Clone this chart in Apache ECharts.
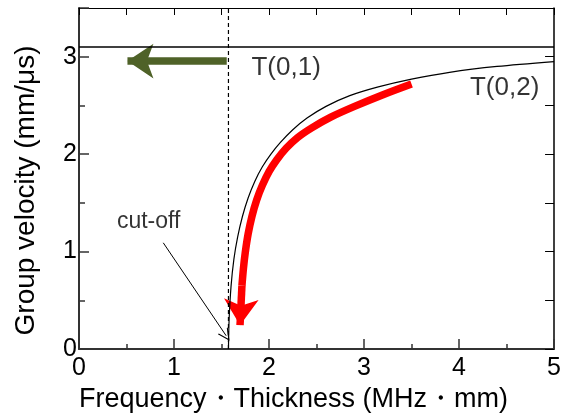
<!DOCTYPE html>
<html><head><meta charset="utf-8">
<script src="https://cdn.jsdelivr.net/npm/echarts@6/dist/echarts.min.js"></script>
<style>html,body{margin:0;padding:0;background:#fff}#c{width:564px;height:418px}</style>
</head><body><div id="c"></div>
<script>
// T(0,2) group velocity curve
const curveX = [1.573, 1.58, 1.60, 1.63, 1.67, 1.72, 1.78, 1.85, 1.93, 2.02, 2.12, 2.25, 2.40, 2.60, 2.85, 3.15, 3.50, 3.90, 4.40, 5.00];
const curveY = [0.00, 0.30, 0.64, 0.92, 1.15, 1.36, 1.55, 1.72, 1.87, 2.00, 2.12, 2.25, 2.37, 2.49, 2.60, 2.69, 2.77, 2.84, 2.90, 2.95];
// red thick arrow (shaft) from top right down toward cut-off
const redX = [3.50, 3.20, 2.90, 2.65, 2.45, 2.30, 2.18, 2.08, 2.00, 1.93, 1.87, 1.82, 1.78, 1.75, 1.73, 1.715];
const redY = [2.72, 2.61, 2.49, 2.38, 2.27, 2.17, 2.06, 1.94, 1.82, 1.68, 1.53, 1.36, 1.18, 0.99, 0.82, 0.65];
const redHeadX = [1.715, 1.695];
const redHeadY = [0.65, 0.245];
// green arrow along T(0,1)
const greenX = [1.555, 0.51];
const greenY = [2.955, 2.955];
// cut-off pointer
const cutArrowX = [0.887, 1.549];
const cutArrowY = [1.09, 0.136];
const cutoffFT = 1.573;
const t01Velocity = 3.1;
const annotations = [
  {text: 'T(0,1)', x: 1.81, y: 2.89, size: 26},
  {text: 'T(0,2)', x: 4.11, y: 2.685, size: 26},
  {text: 'cut-off', x: 0.394, y: 1.31, size: 23}
];
const xMin = 0, xMax = 5, yMin = 0, yMax = 3.5;

const FONT = 'Liberation Sans, Arial, sans-serif';
const chart = echarts.init(document.getElementById('c'), null, {renderer: 'canvas'});
const pair = (xs, ys) => xs.map((v, i) => [v, ys[i]]);

const baseAxis = {type: 'value', splitLine: {show: false}};
const option = {
  animation: false,
  backgroundColor: '#fff',
  grid: {left: 79, right: 6, top: 8, bottom: 68, show: false},
  xAxis: [
    Object.assign({}, baseAxis, {min: xMin, max: xMax, interval: 1, position: 'bottom',
      axisLine: {show: true, onZero: false, lineStyle: {color: '#333', width: 2}},
      axisTick: {show: true, inside: true, length: 10, lineStyle: {color: '#333', width: 1.5}},
      minorTick: {show: true, splitNumber: 2, length: 5, lineStyle: {color: '#333', width: 1.5}},
      axisLabel: {fontSize: 25, color: '#000', fontFamily: FONT, margin: 7},
      name: 'Frequency・Thickness (MHz・mm)', nameLocation: 'middle', nameGap: 37,
      nameTextStyle: {fontSize: 27, color: '#000', fontFamily: FONT, padding: [0, 46, 0, 0]}
    }),
    Object.assign({}, baseAxis, {min: xMin, max: xMax, interval: 0.5, position: 'top',
      axisLine: {show: true, onZero: false, lineStyle: {color: '#000', width: 1.2}},
      axisTick: {show: true, inside: true, length: 7, lineStyle: {color: '#000', width: 1}},
      axisLabel: {show: false}
    })
  ],
  yAxis: [
    Object.assign({}, baseAxis, {min: yMin, max: yMax, interval: 1, position: 'left',
      axisLine: {show: true, onZero: false, lineStyle: {color: '#333', width: 2}},
      axisTick: {show: true, inside: true, length: 10, lineStyle: {color: '#333', width: 1.5}},
      minorTick: {show: true, splitNumber: 2, length: 6, lineStyle: {color: '#333', width: 1.5}},
      axisLabel: {fontSize: 25, color: '#000', fontFamily: FONT, margin: 2, showMaxLabel: false},
      name: 'Group velocity (mm/μs)', nameLocation: 'middle', nameGap: 39, nameRotate: 90,
      nameTextStyle: {fontSize: 28, color: '#000', fontFamily: FONT, padding: [0, 24, 0, 0]}
    }),
    Object.assign({}, baseAxis, {min: yMin, max: yMax, interval: 0.5, position: 'right',
      axisLine: {show: true, onZero: false, lineStyle: {color: '#000', width: 1.5}},
      axisTick: {show: true, inside: true, length: 9, lineStyle: {color: '#000', width: 1}},
      axisLabel: {show: false}
    })
  ],
  series: [
    {type: 'line', data: [[cutoffFT, yMin], [cutoffFT, yMax]], symbol: 'none',
      lineStyle: {color: '#000', width: 1.2, type: [4, 3]}, silent: true},
    {type: 'line', data: [[xMin, t01Velocity], [xMax, t01Velocity]], symbol: 'none',
      lineStyle: {color: '#000', width: 1.5}},
    {type: 'line', data: pair(curveX, curveY), symbol: 'none', smooth: 0.3,
      lineStyle: {color: '#000', width: 1.2}},
    {type: 'line', data: pair(redX, redY), symbol: 'none', smooth: 0.3,
      lineStyle: {color: '#ff0000', width: 7.5, cap: 'butt', join: 'round'}},
    {type: 'lines', coordinateSystem: 'cartesian2d', symbol: ['none', 'arrow'], symbolSize: [26, 26],
      lineStyle: {color: '#ff0000', width: 7.5, opacity: 1, curveness: 0},
      data: [{coords: pair(redHeadX, redHeadY)}]},
    {type: 'lines', coordinateSystem: 'cartesian2d', symbol: ['none', 'arrow'], symbolSize: [26, 26],
      lineStyle: {color: '#4f6228', width: 7.5, opacity: 1, curveness: 0},
      data: [{coords: pair(greenX, greenY)}]},
    {type: 'lines', coordinateSystem: 'cartesian2d',
      symbol: ['none', 'path://M5,0 L10,12 L9,12 L5,2.4 L1,12 L0,12 Z'], symbolSize: [10, 12],
      lineStyle: {color: '#000', width: 1, opacity: 1, curveness: 0},
      data: [{coords: pair(cutArrowX, cutArrowY)}]},
    {type: 'scatter', symbolSize: 1, itemStyle: {color: 'rgba(0,0,0,0)'},
      data: annotations.map(a => ({value: [a.x, a.y],
        label: {show: true, position: 'right', distance: 0, formatter: a.text,
          fontSize: a.size, color: '#000', fontFamily: FONT}}))}
  ]
};
chart.setOption(option);
</script></body></html>
